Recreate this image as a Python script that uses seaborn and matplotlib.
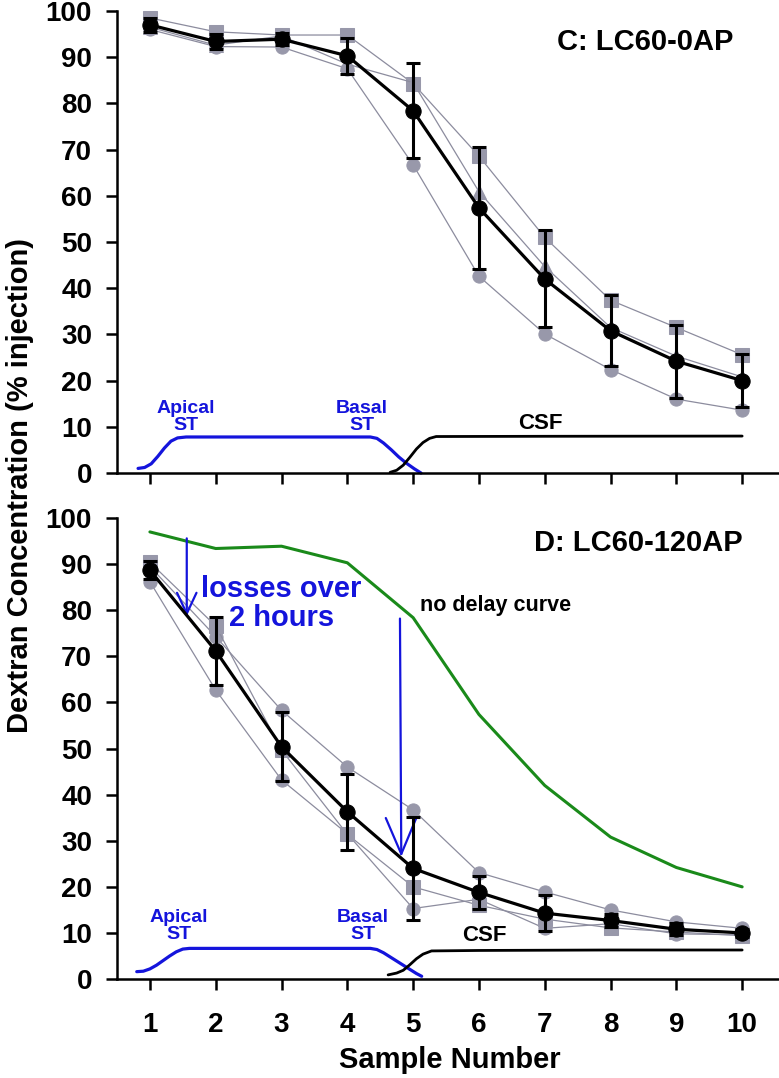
import matplotlib
matplotlib.use("Agg")
import matplotlib.pyplot as plt
import seaborn as sns
import numpy as np
import pandas as pd

# sample numbers
samples = list(range(1, 11))

# panel C: LC60-0AP
c_mean = [97.0, 93.4, 93.9, 90.3, 78.4, 57.4, 42.0, 30.8, 24.2, 20.0]
c_err = [1.5, 1.7, 1.3, 3.9, 10.3, 13.2, 10.5, 7.7, 7.9, 5.8]
c_sq = [98.5, 95.5, 94.8, 94.8, 84.3, 68.6, 51.0, 37.4, 31.5, 25.6]
c_ci = [96.0, 92.3, 92.2, 87.5, 66.7, 42.6, 30.1, 22.4, 16.0, 13.6]
c_tr = [96.5, 92.6, 94.6, 88.5, 84.5, 60.9, 44.7, 31.5, 25.3, 20.8]

# panel D: LC60-120AP
d_mean = [88.7, 71.2, 50.4, 36.3, 24.0, 18.8, 14.3, 12.7, 10.8, 10.0]
d_err = [1.9, 7.4, 7.5, 8.2, 11.1, 3.5, 3.9, 1.4, 1.3, 0.8]
d_a = [89.5, 74.3, 58.3, 46.0, 36.7, 23.1, 18.9, 15.0, 12.4, 11.0]
d_b = [86.2, 62.7, 43.2, 31.5, 15.3, 17.3, 11.0, 12.0, 9.8, 9.6]
d_c = [90.4, 76.6, 49.7, 31.4, 20.0, 16.0, 13.0, 11.1, 10.2, 9.4]

# schematic compartment curves
top_st_x = [0.82, 0.92, 1.02, 1.12, 1.22, 1.32, 1.42, 1.55, 4.35, 4.45, 4.55, 4.67, 4.78, 4.9, 5.02, 5.12]
top_st_y = [1.0, 1.2, 2.0, 3.6, 5.4, 6.9, 7.6, 7.8, 7.8, 7.5, 6.5, 5.0, 3.5, 2.1, 0.9, 0.0]
top_csf_x = [4.65, 4.75, 4.85, 4.95, 5.05, 5.15, 5.25, 5.35, 7.0, 10.0]
top_csf_y = [0.15, 0.6, 1.7, 3.4, 5.2, 6.6, 7.5, 7.9, 7.95, 8.0]
bot_st_x = [0.80, 0.9, 1.0, 1.1, 1.2, 1.3, 1.4, 1.5, 1.6, 4.35, 4.45, 4.55, 4.65, 4.75, 4.85, 4.95, 5.05, 5.13]
bot_st_y = [1.6, 1.7, 2.2, 3.0, 4.0, 5.0, 5.9, 6.5, 6.65, 6.65, 6.4, 5.7, 4.8, 3.9, 3.0, 2.1, 1.2, 0.6]
bot_csf_x = [4.62, 4.75, 4.85, 4.95, 5.05, 5.15, 5.28, 6.0, 8.0, 10.0]
bot_csf_y = [0.9, 1.3, 1.9, 3.1, 4.4, 5.4, 6.1, 6.2, 6.3, 6.3]

sns.set_style("ticks")
plt.rcParams["font.family"] = ["Liberation Sans", "DejaVu Sans"]
plt.rcParams["font.weight"] = "bold"
plt.rcParams["text.color"] = "black"
plt.rcParams["xtick.color"] = "black"
plt.rcParams["ytick.color"] = "black"

gray = "#9898aa"
gline = "#8c8c9e"
blue = "#1414dc"
green = "#1a8a1a"

fig = plt.figure(figsize=(7.79, 10.78), dpi=100)
ax_c = fig.add_axes([0.1502, 0.5612, 0.8498, 0.4286])
ax_d = fig.add_axes([0.1502, 0.0918, 0.8498, 0.4276])


def individuals(ax, series, markers):
    for vals, m in zip(series, markers):
        sns.lineplot(x=samples, y=vals, ax=ax, color=gline, lw=0.9, marker=m,
                     markersize=9.5, markerfacecolor=gray, markeredgecolor=gray,
                     clip_on=False, zorder=2)


def mean_line(ax, mean, err):
    ax.errorbar(samples, mean, yerr=err, fmt="none", ecolor="black",
                elinewidth=2.2, capsize=5, capthick=2.2, zorder=4, clip_on=False)
    sns.lineplot(x=samples, y=mean, ax=ax, color="black", lw=2.3, marker="o",
                 markersize=11, markeredgecolor="black", clip_on=False, zorder=5)


individuals(ax_c, [c_sq, c_ci, c_tr], ["s", "o", "^"])
mean_line(ax_c, c_mean, c_err)
individuals(ax_d, [d_a, d_b, d_c], ["o", "o", "s"])
sns.lineplot(x=samples, y=c_mean, ax=ax_d, color=green, lw=2.2, zorder=1)
mean_line(ax_d, d_mean, d_err)

ax_c.plot(top_st_x, top_st_y, color=blue, lw=2.3, clip_on=False, solid_capstyle="round")
ax_c.plot(top_csf_x, top_csf_y, color="black", lw=2.0, clip_on=False, solid_capstyle="round")
ax_d.plot(bot_st_x, bot_st_y, color=blue, lw=2.3, clip_on=False, solid_capstyle="round")
ax_d.plot(bot_csf_x, bot_csf_y, color="black", lw=2.0, clip_on=False, solid_capstyle="round")

for ax in (ax_c, ax_d):
    ax.set_xlim(0.5, 10.56)
    ax.set_ylim(0, 100)
    ax.set_xticks(samples)
    ax.set_yticks(range(0, 101, 10))
    ax.tick_params(axis="both", direction="out", length=8, width=1.8,
                   labelsize=20, colors="black")
    ax.tick_params(axis="y", pad=10)
    ax.tick_params(axis="x", pad=16)
    for s in ("left", "bottom"):
        ax.spines[s].set_linewidth(1.8)
        ax.spines[s].set_color("black")
    sns.despine(ax=ax)
    ax.set_xlabel("")
    ax.set_ylabel("")
    for lab in ax.get_yticklabels() + ax.get_xticklabels():
        lab.set_fontweight("bold")
        lab.set_color("black")

ax_c.tick_params(axis="x", labelbottom=False)

# text annotations, panel C
ax_c.text(8.52, 93.2, "C: LC60-0AP", fontsize=21, fontweight="bold", ha="center", va="center")
ax_c.text(1.54, 12.2, "Apical\nST", color=blue, fontsize=14, fontweight="bold",
          ha="center", va="center", linespacing=1.0)
ax_c.text(4.22, 12.2, "Basal\nST", color=blue, fontsize=14, fontweight="bold",
          ha="center", va="center", linespacing=1.0)
ax_c.text(6.94, 10.8, "CSF", fontsize=16, fontweight="bold", ha="center", va="center")

# text annotations, panel D
ax_d.text(8.42, 94.6, "D: LC60-120AP", fontsize=21, fontweight="bold", ha="center", va="center")
ax_d.text(1.44, 11.4, "Apical\nST", color=blue, fontsize=14, fontweight="bold",
          ha="center", va="center", linespacing=1.0)
ax_d.text(4.24, 11.4, "Basal\nST", color=blue, fontsize=14, fontweight="bold",
          ha="center", va="center", linespacing=1.0)
ax_d.text(6.09, 9.5, "CSF", fontsize=16, fontweight="bold", ha="center", va="center")
ax_d.text(5.10, 81.1, "no delay curve", fontsize=15.5, fontweight="bold", ha="left", va="center")
ax_d.text(3.0, 81.5, "losses over\n2 hours", color=blue, fontsize=21, fontweight="bold",
          ha="center", va="center", linespacing=1.05)
ax_d.annotate("", xy=(1.56, 78.7), xytext=(1.56, 95.6),
              arrowprops=dict(arrowstyle="->,head_length=1.5,head_width=0.7",
                              color=blue, lw=1.6, shrinkA=0, shrinkB=0))
ax_d.annotate("", xy=(4.82, 26.5), xytext=(4.80, 78.2),
              arrowprops=dict(arrowstyle="->,head_length=2.6,head_width=1.1",
                              color=blue, lw=1.6, shrinkA=0, shrinkB=0))

fig.text(0.026, 0.55, "Dextran Concentration (% injection)", rotation=90,
         fontsize=21, fontweight="bold", ha="center", va="center")
fig.text(0.577, 0.0097, "Sample Number", fontsize=21, fontweight="bold",
         ha="center", va="baseline")

fig.savefig("out.png", dpi=100)
